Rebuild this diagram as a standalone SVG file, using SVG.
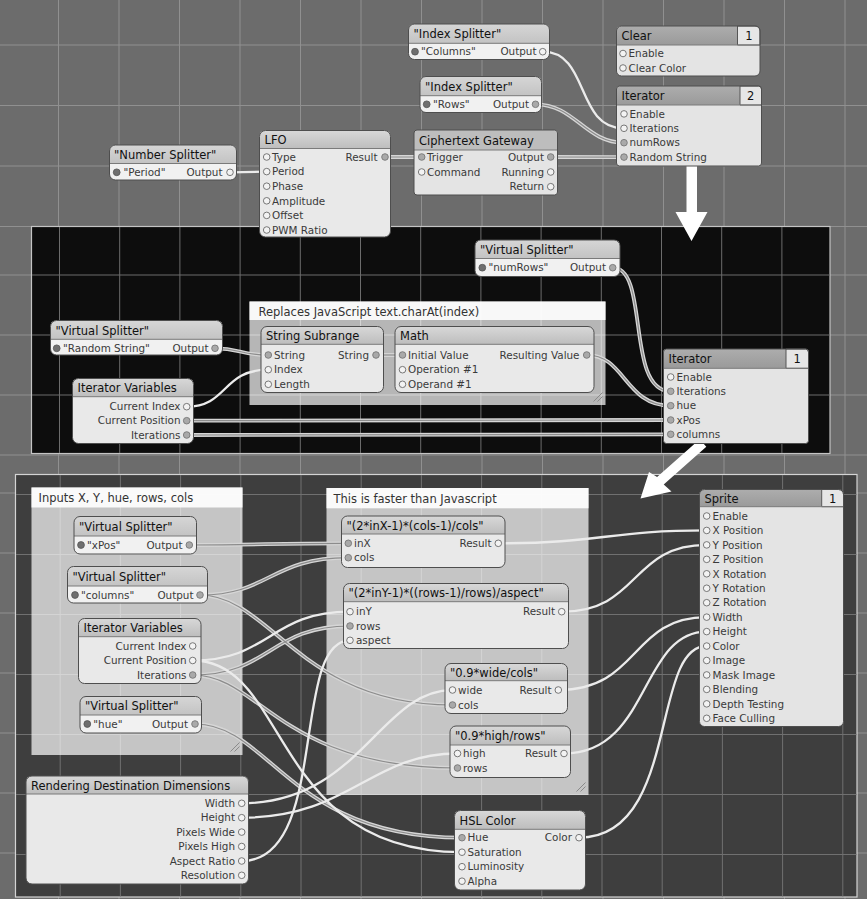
<svg xmlns="http://www.w3.org/2000/svg" width="867" height="899" viewBox="0 0 867 899">
<style>
text{font-family:"DejaVu Sans","Liberation Sans",sans-serif}
.t{font-size:11.5px;fill:#111}
.p{font-size:10.4px;fill:#3a3a3a}
.e{text-anchor:end}
.m{text-anchor:middle}
.ct{font-size:11.5px;fill:#333}
.ol{fill:none;stroke:#4e4e4e;stroke-width:1}
.bp{fill:#e9e9e9}
.bs{fill:#f1f1f1}
.bc{fill:#e4e4e4}
.hp{fill:url(#gp)}
.hs{fill:url(#gs)}
.hc{fill:url(#gc)}
.hg{fill:#bdbdbd}
.sep{stroke:#7a7a7a;stroke-width:1;fill:none}
.o{fill:#f3f3f3;stroke:#6a6a6a;stroke-width:.9}
.g{fill:#a9a9a9;stroke:#777;stroke-width:.9}
.d{fill:#6f6f6f;stroke:#555;stroke-width:.8}
.num{fill:#e6e6e6;stroke:#555;stroke-width:1}
.cm{fill:#fff;fill-opacity:.7}
.cb{fill:#fff;fill-opacity:.9}
.grip{stroke:#8a8a8a;stroke-width:1;fill:none}
.gridA{stroke:#909090;stroke-width:1;fill:none}
.gridB{stroke:#6c6c6c;stroke-width:1;fill:none}
.gridC{stroke:#707070;stroke-width:1;fill:none}
.ws{fill:none;stroke:#ebebeb;stroke-width:2.3}
.we{fill:none;stroke:#d6d6d6;stroke-width:3.8}
.wc{fill:none;stroke:#8c8c8c;stroke-width:1.2}
.arrow{fill:#fff}
</style>
<defs>
<linearGradient id="gp" x1="0" y1="0" x2="0" y2="1"><stop offset="0" stop-color="#d8d8d8"/><stop offset="1" stop-color="#bdbdbd"/></linearGradient>
<linearGradient id="gs" x1="0" y1="0" x2="0" y2="1"><stop offset="0" stop-color="#d6d6d6"/><stop offset="1" stop-color="#c3c3c3"/></linearGradient>
<linearGradient id="gc" x1="0" y1="0" x2="0" y2="1"><stop offset="0" stop-color="#adadad"/><stop offset="1" stop-color="#9a9a9a"/></linearGradient>
<!-- wires drawn with the two-tone "tube" look -->
<g id="tube-geom">
<path d="M385,157L421.7,157"/>
<path d="M550.7,157L624,157.1"/>
<path d="M535.5,104.3C575,104.3 585,142.7 624,142.7"/>
<path d="M612.7,267.7C650,267.7 625,391.3 670.7,391.3"/>
<path d="M215,348.3C240,348.3 240,355 268.3,355"/>
<path d="M376,355L402.5,355"/>
<path d="M586.7,355C625,355 625,405.7 670.7,405.7"/>
<path d="M186.7,420.7L670.7,420"/>
<path d="M186.7,435L670.7,434.3"/>
<path d="M189.3,545C265,545 265,543.3 348.3,543.3"/>
<path d="M200,595C270,595 270,557.7 348.3,557.7"/>
<path d="M200,595C270,595 300,705 452.5,705"/>
<path d="M192.7,675C270,675 270,626 350,626"/>
<path d="M192.7,675C260,675 280,768 457.5,768"/>
<path d="M195,724C270,724 290,837.7 462,837.7"/>
</g>
</defs>

<!-- canvas and grid -->
<rect width="867" height="899" fill="#6c6c6c"/>
<path class="gridA" d="M58.5,0V899M119,0V899M179.5,0V899M240,0V899M300.5,0V899M361,0V899M421.5,0V899M482,0V899M542.5,0V899M603,0V899M663.5,0V899M724,0V899M784.5,0V899M845,0V899M0,45H867M0,105.5H867M0,166H867M0,226.5H867M0,275H867M0,335H867M0,395H867M0,455H867M0,493H867M0,553H867M0,613H867M0,673H867M0,733H867M0,793H867M0,853H867"/>

<!-- iteration sub-patch panel -->
<rect x="31.5" y="226.5" width="798.5" height="227" fill="#0d0d0d" stroke="#c4c4c4" stroke-width="1.2"/>
<path class="gridB" d="M59.5,227V453M119.7,227V453M179.9,227V453M240.1,227V453M300.3,227V453M360.5,227V453M420.7,227V453M480.9,227V453M541.1,227V453M601.3,227V453M661.5,227V453M721.7,227V453M781.9,227V453M32,275H829.5M32,335H829.5M32,395H829.5"/>

<!-- sprite sub-patch panel -->
<rect x="15.5" y="474.5" width="841.5" height="422.5" fill="#3e3e3e" stroke="#d4d4d4" stroke-width="1.2"/>
<path class="gridC" d="M60.2,475V896.5M120.4,475V896.5M180.6,475V896.5M240.8,475V896.5M301,475V896.5M361.2,475V896.5M421.4,475V896.5M481.6,475V896.5M541.8,475V896.5M602,475V896.5M662.2,475V896.5M722.4,475V896.5M782.6,475V896.5M842.8,475V896.5M16,494.5H856.5M16,554.5H856.5M16,614.5H856.5M16,674.5H856.5M16,734.5H856.5M16,794.5H856.5M16,854.5H856.5"/>

<!-- comments -->
<g id="note-charat" transform="translate(249.5,301.5)">
<rect class="cm" width="356" height="103.5"/>
<rect class="cb" width="356" height="18.5"/>
<text class="ct" x="9" y="14">Replaces JavaScript text.charAt(index)</text>
<path class="grip" d="M344,100L353,91M348,100L353,95"/>
</g>
<g id="note-inputs" transform="translate(31.5,487.5)">
<rect class="cm" width="211" height="267.5"/>
<rect class="cb" width="211" height="20"/>
<text class="ct" x="7" y="14.5">Inputs X, Y, hue, rows, cols</text>
<path class="grip" d="M199,264L208,255M203,264L208,259"/>
</g>
<g id="note-faster" transform="translate(326.5,488)">
<rect class="cm" width="262" height="307"/>
<rect class="cb" width="262" height="20.3"/>
<text class="ct" x="7" y="14.7">This is faster than Javascript</text>
<path class="grip" d="M250,303.5L259,294.5M254,303.5L259,298.5"/>
</g>

<!-- connectors -->
<g id="connectors">
<use href="#tube-geom" class="we"/>
<use href="#tube-geom" class="wc"/>
<g class="ws">
<path d="M230,172.3L266.7,171.6"/>
<path d="M542.7,51.7C590,51.7 575,128.3 624,128.3"/>
<path d="M186.7,406.7C228,406.7 222,369.7 268.3,369.7"/>
<path d="M192.7,660.5C270,660.5 270,611.7 350,611.7"/>
<path d="M192.7,660.5C290,660.5 270,852.2 462,852.2"/>
<path d="M241.7,803.3C360,803.3 380,690 452.5,690"/>
<path d="M241.7,817.7C350,817.7 370,753.5 457.5,753.5"/>
<path d="M241.7,861C330,861 290,640.3 350,640.3"/>
<path d="M498.3,543.3C600,543.3 610,530.45 706.7,530.45"/>
<path d="M561.7,611.7C640,611.7 630,544.9 706.7,544.9"/>
<path d="M558.3,690C640,690 630,617.15 706.7,617.15"/>
<path d="M564,753.5C650,753.5 640,631.6 706.7,631.6"/>
<path d="M579,837.7C680,837.7 650,646 706.7,646"/>
</g>
</g>

<!-- flow arrows between the three levels -->
<path class="arrow" d="M686.5,165H697V212H707.5L691.5,241L675.5,212H686.5Z"/>
<path class="arrow" d="M699.7,439.3L706.3,446.7L663.7,484.5L671.5,491.5L640.5,498.5L649,472L657.1,477.1Z"/>

<!-- top level -->
<g id="number-splitter" transform="translate(109.5,145)">
<rect class="bs" width="127" height="35" rx="6"/>
<path class="hs" d="M0,18.5V6Q0,0 6,0H121Q127,0 127,6V18.5Z"/>
<path class="sep" d="M0,18.5H127"/>
<rect class="ol" width="127" height="35" rx="6"/>
<text class="t" x="4.5" y="13.5">"Number Splitter"</text>
<circle class="d" cx="7.2" cy="27.3" r="3.4"/>
<text class="p" x="14" y="31">"Period"</text>
<text class="p e" x="113" y="31">Output</text>
<circle class="o" cx="120.5" cy="27.3" r="3.3"/>
</g>

<g id="lfo" transform="translate(259.5,130.5)">
<rect class="bp" width="131" height="106.5" rx="6"/>
<path class="hp" d="M0,18V6Q0,0 6,0H125Q131,0 131,6V18Z"/>
<path class="sep" d="M0,18H131"/>
<rect class="ol" width="131" height="106.5" rx="6"/>
<text class="t" x="5" y="13.5">LFO</text>
<circle class="o" cx="7.2" cy="26.5" r="3.3"/><text class="p" x="12.5" y="30.2">Type</text>
<circle class="o" cx="7.2" cy="41.1" r="3.3"/><text class="p" x="12.5" y="44.8">Period</text>
<circle class="o" cx="7.2" cy="55.7" r="3.3"/><text class="p" x="12.5" y="59.4">Phase</text>
<circle class="o" cx="7.2" cy="70.3" r="3.3"/><text class="p" x="12.5" y="74">Amplitude</text>
<circle class="o" cx="7.2" cy="84.9" r="3.3"/><text class="p" x="12.5" y="88.6">Offset</text>
<circle class="o" cx="7.2" cy="99.5" r="3.3"/><text class="p" x="12.5" y="103.2">PWM Ratio</text>
<text class="p e" x="118" y="30.2">Result</text>
<circle class="g" cx="125.5" cy="26.5" r="3.3"/>
</g>

<g id="ciphertext-gateway" transform="translate(414,130)">
<rect class="bc" width="143.5" height="65" rx="3"/>
<path class="hg" d="M0,20V3Q0,0 3,0H140.5Q143.5,0 143.5,3V20Z"/>
<path class="sep" d="M0,20H143.5"/>
<rect class="ol" width="143.5" height="65" rx="3"/>
<text class="t" x="5" y="14.5">Ciphertext Gateway</text>
<circle class="g" cx="7.7" cy="27" r="3.3"/><text class="p" x="13" y="30.7">Trigger</text>
<circle class="o" cx="7.7" cy="42" r="3.3"/><text class="p" x="13" y="45.7">Command</text>
<text class="p e" x="130" y="30.7">Output</text><circle class="g" cx="136.7" cy="27" r="3.3"/>
<text class="p e" x="130" y="45.7">Running</text><circle class="o" cx="136.7" cy="42" r="3.3"/>
<text class="p e" x="130" y="60.4">Return</text><circle class="o" cx="136.7" cy="56.7" r="3.3"/>
</g>

<g id="index-splitter-columns" transform="translate(408.5,24)">
<rect class="bs" width="141" height="35.5" rx="6"/>
<path class="hs" d="M0,19.3V6Q0,0 6,0H135Q141,0 141,6V19.3Z"/>
<path class="sep" d="M0,19.3H141"/>
<rect class="ol" width="141" height="35.5" rx="6"/>
<text class="t" x="5" y="14.3">"Index Splitter"</text>
<circle class="d" cx="6.5" cy="27.7" r="3.4"/>
<text class="p" x="12.5" y="31.4">"Columns"</text>
<text class="p e" x="128" y="31.4">Output</text>
<circle class="o" cx="134.2" cy="27.7" r="3.3"/>
</g>

<g id="index-splitter-rows" transform="translate(420,76.5)">
<rect class="bs" width="121.5" height="36" rx="6"/>
<path class="hs" d="M0,19.2V6Q0,0 6,0H115.5Q121.5,0 121.5,6V19.2Z"/>
<path class="sep" d="M0,19.2H121.5"/>
<rect class="ol" width="121.5" height="36" rx="6"/>
<text class="t" x="5" y="14.3">"Index Splitter"</text>
<circle class="d" cx="6.7" cy="27.8" r="3.4"/>
<text class="p" x="13" y="31.5">"Rows"</text>
<text class="p e" x="109" y="31.5">Output</text>
<circle class="g" cx="115.5" cy="27.8" r="3.3"/>
</g>

<g id="clear" transform="translate(616.5,26)">
<rect class="bc" width="143.5" height="50" rx="5"/>
<path class="hc" d="M0,19V5Q0,0 5,0H121V19Z"/>
<path class="num" d="M121,0H138.5Q143.5,0 143.5,5V19H121Z"/>
<path class="sep" d="M0,19H143.5"/>
<rect class="ol" width="143.5" height="50" rx="5"/>
<text class="t" x="5" y="14">Clear</text>
<text class="t m" x="132.3" y="14">1</text>
<circle class="o" cx="6.5" cy="27.5" r="3.3"/><text class="p" x="12" y="31.2">Enable</text>
<circle class="o" cx="6.5" cy="42" r="3.3"/><text class="p" x="12" y="45.7">Clear Color</text>
</g>

<g id="iterator-outer" transform="translate(616.5,86)">
<rect class="bc" width="145" height="80" rx="3"/>
<path class="hc" d="M0,19V3Q0,0 3,0H123.5V19Z"/>
<path class="num" d="M123.5,0H142Q145,0 145,3V19H123.5Z"/>
<path class="sep" d="M0,19H145"/>
<rect class="ol" width="145" height="80" rx="3"/>
<text class="t" x="5" y="14">Iterator</text>
<text class="t m" x="134.2" y="14">2</text>
<circle class="o" cx="7.5" cy="27.9" r="3.3"/><text class="p" x="13" y="31.6">Enable</text>
<circle class="o" cx="7.5" cy="42.3" r="3.3"/><text class="p" x="13" y="46">Iterations</text>
<circle class="g" cx="7.5" cy="56.7" r="3.3"/><text class="p" x="13" y="60.4">numRows</text>
<circle class="g" cx="7.5" cy="71.1" r="3.3"/><text class="p" x="13" y="74.8">Random String</text>
</g>

<!-- iteration level -->
<g id="virtual-splitter-numrows" transform="translate(475,240)">
<rect class="bs" width="145" height="36.5" rx="6"/>
<path class="hs" d="M0,18.5V6Q0,0 6,0H139Q145,0 145,6V18.5Z"/>
<path class="sep" d="M0,18.5H145"/>
<rect class="ol" width="145" height="36.5" rx="6"/>
<text class="t" x="5" y="13.8">"Virtual Splitter"</text>
<circle class="d" cx="7.3" cy="27.7" r="3.4"/>
<text class="p" x="13.5" y="31.4">"numRows"</text>
<text class="p e" x="131" y="31.4">Output</text>
<circle class="g" cx="137.7" cy="27.7" r="3.3"/>
</g>

<g id="string-subrange" transform="translate(261,326.5)">
<rect class="bp" width="122.5" height="66" rx="6"/>
<path class="hp" d="M0,17.8V6Q0,0 6,0H116.5Q122.5,0 122.5,6V17.8Z"/>
<path class="sep" d="M0,17.8H122.5"/>
<rect class="ol" width="122.5" height="66" rx="6"/>
<text class="t" x="5" y="13.3">String Subrange</text>
<circle class="g" cx="7.3" cy="28.5" r="3.3"/><text class="p" x="13" y="32.2">String</text>
<circle class="o" cx="7.3" cy="43.2" r="3.3"/><text class="p" x="13" y="46.9">Index</text>
<circle class="o" cx="7.3" cy="57.8" r="3.3"/><text class="p" x="13" y="61.5">Length</text>
<text class="p e" x="108" y="32.2">String</text>
<circle class="g" cx="115" cy="28.5" r="3.3"/>
</g>

<g id="math" transform="translate(395,326.5)">
<rect class="bp" width="199" height="66" rx="6"/>
<path class="hp" d="M0,17.8V6Q0,0 6,0H193Q199,0 199,6V17.8Z"/>
<path class="sep" d="M0,17.8H199"/>
<rect class="ol" width="199" height="66" rx="6"/>
<text class="t" x="5" y="13.3">Math</text>
<circle class="g" cx="7.5" cy="28.5" r="3.3"/><text class="p" x="13" y="32.2">Initial Value</text>
<circle class="o" cx="7.5" cy="43.2" r="3.3"/><text class="p" x="13" y="46.9">Operation #1</text>
<circle class="o" cx="7.5" cy="57.8" r="3.3"/><text class="p" x="13" y="61.5">Operand #1</text>
<text class="p e" x="184.5" y="32.2">Resulting Value</text>
<circle class="g" cx="191.7" cy="28.5" r="3.3"/>
</g>

<g id="virtual-splitter-random-string" transform="translate(50.5,320.5)">
<rect class="bs" width="172" height="34.5" rx="6"/>
<path class="hs" d="M0,18.8V6Q0,0 6,0H166Q172,0 172,6V18.8Z"/>
<path class="sep" d="M0,18.8H172"/>
<rect class="ol" width="172" height="34.5" rx="6"/>
<text class="t" x="5" y="14">"Virtual Splitter"</text>
<circle class="d" cx="6.2" cy="27.8" r="3.4"/>
<text class="p" x="12.5" y="31.5">"Random String"</text>
<text class="p e" x="158" y="31.5">Output</text>
<circle class="g" cx="164.5" cy="27.8" r="3.3"/>
</g>

<g id="iterator-variables-inner" transform="translate(72.5,378.5)">
<rect class="bp" width="121" height="65" rx="6"/>
<path class="hp" d="M0,18.2V6Q0,0 6,0H115Q121,0 121,6V18.2Z"/>
<path class="sep" d="M0,18.2H121"/>
<rect class="ol" width="121" height="65" rx="6"/>
<text class="t" x="5" y="13.5">Iterator Variables</text>
<text class="p e" x="108" y="31.9">Current Index</text><circle class="o" cx="114.2" cy="28.2" r="3.3"/>
<text class="p e" x="108" y="45.9">Current Position</text><circle class="g" cx="114.2" cy="42.2" r="3.3"/>
<text class="p e" x="108" y="60.2">Iterations</text><circle class="g" cx="114.2" cy="56.5" r="3.3"/>
</g>

<g id="iterator-inner" transform="translate(663.5,349)">
<rect class="bc" width="145" height="94.5" rx="3"/>
<path class="hc" d="M0,19.3V3Q0,0 3,0H122.5V19.3Z"/>
<path class="num" d="M122.5,0H142Q145,0 145,3V19.3H122.5Z"/>
<path class="sep" d="M0,19.3H145"/>
<rect class="ol" width="145" height="94.5" rx="3"/>
<text class="t" x="5" y="14.3">Iterator</text>
<text class="t m" x="133.7" y="14.3">1</text>
<circle class="o" cx="7.2" cy="28" r="3.3"/><text class="p" x="13" y="31.7">Enable</text>
<circle class="g" cx="7.2" cy="42.3" r="3.3"/><text class="p" x="13" y="46">Iterations</text>
<circle class="g" cx="7.2" cy="56.7" r="3.3"/><text class="p" x="13" y="60.4">hue</text>
<circle class="g" cx="7.2" cy="71" r="3.3"/><text class="p" x="13" y="74.7">xPos</text>
<circle class="g" cx="7.2" cy="85.3" r="3.3"/><text class="p" x="13" y="89">columns</text>
</g>

<!-- sprite level -->
<g id="virtual-splitter-xpos" transform="translate(74,516.5)">
<rect class="bs" width="122.5" height="37.5" rx="6"/>
<path class="hs" d="M0,19.5V6Q0,0 6,0H116.5Q122.5,0 122.5,6V19.5Z"/>
<path class="sep" d="M0,19.5H122.5"/>
<rect class="ol" width="122.5" height="37.5" rx="6"/>
<text class="t" x="5" y="14.5">"Virtual Splitter"</text>
<circle class="d" cx="7" cy="28.5" r="3.4"/>
<text class="p" x="13" y="32.2">"xPos"</text>
<text class="p e" x="108.5" y="32.2">Output</text>
<circle class="g" cx="115.3" cy="28.5" r="3.3"/>
</g>

<g id="virtual-splitter-columns" transform="translate(67.5,566.5)">
<rect class="bs" width="140" height="36.5" rx="6"/>
<path class="hs" d="M0,19.5V6Q0,0 6,0H134Q140,0 140,6V19.5Z"/>
<path class="sep" d="M0,19.5H140"/>
<rect class="ol" width="140" height="36.5" rx="6"/>
<text class="t" x="5" y="14.5">"Virtual Splitter"</text>
<circle class="d" cx="7.5" cy="28.5" r="3.4"/>
<text class="p" x="13.5" y="32.2">"columns"</text>
<text class="p e" x="126" y="32.2">Output</text>
<circle class="g" cx="132.5" cy="28.5" r="3.3"/>
</g>

<g id="iterator-variables-sprite" transform="translate(78.5,618.5)">
<rect class="bp" width="122.5" height="65" rx="6"/>
<path class="hp" d="M0,18.2V6Q0,0 6,0H116.5Q122.5,0 122.5,6V18.2Z"/>
<path class="sep" d="M0,18.2H122.5"/>
<rect class="ol" width="122.5" height="65" rx="6"/>
<text class="t" x="5" y="13.5">Iterator Variables</text>
<text class="p e" x="108" y="31.2">Current Index</text><circle class="o" cx="114.2" cy="27.5" r="3.3"/>
<text class="p e" x="108" y="45.7">Current Position</text><circle class="o" cx="114.2" cy="42" r="3.3"/>
<text class="p e" x="108" y="60.2">Iterations</text><circle class="g" cx="114.2" cy="56.5" r="3.3"/>
</g>

<g id="virtual-splitter-hue" transform="translate(80,696.5)">
<rect class="bs" width="121.5" height="36.5" rx="6"/>
<path class="hs" d="M0,18.5V6Q0,0 6,0H115.5Q121.5,0 121.5,6V18.5Z"/>
<path class="sep" d="M0,18.5H121.5"/>
<rect class="ol" width="121.5" height="36.5" rx="6"/>
<text class="t" x="5" y="13.8">"Virtual Splitter"</text>
<circle class="d" cx="7.3" cy="27.5" r="3.4"/>
<text class="p" x="13.3" y="31.2">"hue"</text>
<text class="p e" x="108" y="31.2">Output</text>
<circle class="g" cx="115" cy="27.5" r="3.3"/>
</g>

<g id="rendering-destination-dimensions" transform="translate(26,776)">
<rect class="bp" width="222.5" height="108" rx="6"/>
<path class="hp" d="M0,18V6Q0,0 6,0H216.5Q222.5,0 222.5,6V18Z"/>
<path class="sep" d="M0,18H222.5"/>
<rect class="ol" width="222.5" height="108" rx="6"/>
<text class="t" x="5" y="13.5">Rendering Destination Dimensions</text>
<text class="p e" x="209" y="31">Width</text><circle class="o" cx="215.7" cy="27.3" r="3.3"/>
<text class="p e" x="209" y="45.4">Height</text><circle class="o" cx="215.7" cy="41.7" r="3.3"/>
<text class="p e" x="209" y="59.8">Pixels Wide</text><circle class="o" cx="215.7" cy="56.1" r="3.3"/>
<text class="p e" x="209" y="74.2">Pixels High</text><circle class="o" cx="215.7" cy="70.5" r="3.3"/>
<text class="p e" x="209" y="88.7">Aspect Ratio</text><circle class="o" cx="215.7" cy="85" r="3.3"/>
<text class="p e" x="209" y="103">Resolution</text><circle class="o" cx="215.7" cy="99.3" r="3.3"/>
</g>

<g id="expr-x" transform="translate(341.5,516)">
<rect class="bp" width="163.5" height="51.5" rx="6"/>
<path class="hp" d="M0,18V6Q0,0 6,0H157.5Q163.5,0 163.5,6V18Z"/>
<path class="sep" d="M0,18H163.5"/>
<rect class="ol" width="163.5" height="51.5" rx="6"/>
<text class="t" x="5" y="13.5">"(2*inX-1)*(cols-1)/cols"</text>
<circle class="g" cx="6.8" cy="27.3" r="3.3"/><text class="p" x="12.5" y="31">inX</text>
<circle class="g" cx="6.8" cy="41.7" r="3.3"/><text class="p" x="12.5" y="45.4">cols</text>
<text class="p e" x="150" y="31">Result</text>
<circle class="o" cx="156.8" cy="27.3" r="3.3"/>
</g>

<g id="expr-y" transform="translate(343.5,583.5)">
<rect class="bp" width="225" height="65" rx="6"/>
<path class="hp" d="M0,18.2V6Q0,0 6,0H219Q225,0 225,6V18.2Z"/>
<path class="sep" d="M0,18.2H225"/>
<rect class="ol" width="225" height="65" rx="6"/>
<text class="t" x="5" y="13.5">"(2*inY-1)*((rows-1)/rows)/aspect"</text>
<circle class="o" cx="6.5" cy="28.2" r="3.3"/><text class="p" x="12.5" y="31.9">inY</text>
<circle class="g" cx="6.5" cy="42.5" r="3.3"/><text class="p" x="12.5" y="46.2">rows</text>
<circle class="o" cx="6.5" cy="56.8" r="3.3"/><text class="p" x="12.5" y="60.5">aspect</text>
<text class="p e" x="211.5" y="31.9">Result</text>
<circle class="o" cx="218.2" cy="28.2" r="3.3"/>
</g>

<g id="expr-width" transform="translate(445,663.5)">
<rect class="bp" width="122.5" height="50" rx="6"/>
<path class="hp" d="M0,17.2V6Q0,0 6,0H116.5Q122.5,0 122.5,6V17.2Z"/>
<path class="sep" d="M0,17.2H122.5"/>
<rect class="ol" width="122.5" height="50" rx="6"/>
<text class="t" x="5" y="13">"0.9*wide/cols"</text>
<circle class="o" cx="7.5" cy="26.5" r="3.3"/><text class="p" x="13" y="30.2">wide</text>
<circle class="g" cx="7.5" cy="41.5" r="3.3"/><text class="p" x="13" y="45.2">cols</text>
<text class="p e" x="106.5" y="30.2">Result</text>
<circle class="o" cx="113.3" cy="26.5" r="3.3"/>
</g>

<g id="expr-height" transform="translate(450,726)">
<rect class="bp" width="120.5" height="51.5" rx="6"/>
<path class="hp" d="M0,19V6Q0,0 6,0H114.5Q120.5,0 120.5,6V19Z"/>
<path class="sep" d="M0,19H120.5"/>
<rect class="ol" width="120.5" height="51.5" rx="6"/>
<text class="t" x="5" y="14">"0.9*high/rows"</text>
<circle class="o" cx="7.5" cy="27.5" r="3.3"/><text class="p" x="13" y="31.2">high</text>
<circle class="g" cx="7.5" cy="42" r="3.3"/><text class="p" x="13" y="45.7">rows</text>
<text class="p e" x="107" y="31.2">Result</text>
<circle class="o" cx="114" cy="27.5" r="3.3"/>
</g>

<g id="hsl-color" transform="translate(454.5,810.5)">
<rect class="bp" width="131" height="79.5" rx="6"/>
<path class="hp" d="M0,18.8V6Q0,0 6,0H125Q131,0 131,6V18.8Z"/>
<path class="sep" d="M0,18.8H131"/>
<rect class="ol" width="131" height="79.5" rx="6"/>
<text class="t" x="5" y="14">HSL Color</text>
<circle class="g" cx="7.5" cy="27.2" r="3.3"/><text class="p" x="13" y="30.9">Hue</text>
<circle class="o" cx="7.5" cy="41.7" r="3.3"/><text class="p" x="13" y="45.4">Saturation</text>
<circle class="o" cx="7.5" cy="56.2" r="3.3"/><text class="p" x="13" y="59.9">Luminosity</text>
<circle class="o" cx="7.5" cy="70.7" r="3.3"/><text class="p" x="13" y="74.4">Alpha</text>
<text class="p e" x="117.5" y="30.9">Color</text>
<circle class="o" cx="124.5" cy="27.2" r="3.3"/>
</g>

<g id="sprite" transform="translate(699.5,489.5)">
<rect class="bc" width="144" height="237" rx="5"/>
<path class="hc" d="M0,17.2V5Q0,0 5,0H122.2V17.2Z"/>
<path class="num" d="M122.2,0H139Q144,0 144,5V17.2H122.2Z"/>
<path class="sep" d="M0,17.2H144"/>
<rect class="ol" width="144" height="237" rx="5"/>
<text class="t" x="5" y="13">Sprite</text>
<text class="t m" x="133.1" y="13">1</text>
<circle class="o" cx="7.2" cy="26.5" r="3.3"/><text class="p" x="13" y="30.2">Enable</text>
<circle class="o" cx="7.2" cy="40.95" r="3.3"/><text class="p" x="13" y="44.65">X Position</text>
<circle class="o" cx="7.2" cy="55.4" r="3.3"/><text class="p" x="13" y="59.1">Y Position</text>
<circle class="o" cx="7.2" cy="69.85" r="3.3"/><text class="p" x="13" y="73.55">Z Position</text>
<circle class="o" cx="7.2" cy="84.3" r="3.3"/><text class="p" x="13" y="88">X Rotation</text>
<circle class="o" cx="7.2" cy="98.75" r="3.3"/><text class="p" x="13" y="102.45">Y Rotation</text>
<circle class="o" cx="7.2" cy="113.2" r="3.3"/><text class="p" x="13" y="116.9">Z Rotation</text>
<circle class="o" cx="7.2" cy="127.65" r="3.3"/><text class="p" x="13" y="131.35">Width</text>
<circle class="o" cx="7.2" cy="142.1" r="3.3"/><text class="p" x="13" y="145.8">Height</text>
<circle class="o" cx="7.2" cy="156.55" r="3.3"/><text class="p" x="13" y="160.25">Color</text>
<circle class="o" cx="7.2" cy="171" r="3.3"/><text class="p" x="13" y="174.7">Image</text>
<circle class="o" cx="7.2" cy="185.45" r="3.3"/><text class="p" x="13" y="189.15">Mask Image</text>
<circle class="o" cx="7.2" cy="199.9" r="3.3"/><text class="p" x="13" y="203.6">Blending</text>
<circle class="o" cx="7.2" cy="214.35" r="3.3"/><text class="p" x="13" y="218.05">Depth Testing</text>
<circle class="o" cx="7.2" cy="228.8" r="3.3"/><text class="p" x="13" y="232.5">Face Culling</text>
</g>
</svg>
